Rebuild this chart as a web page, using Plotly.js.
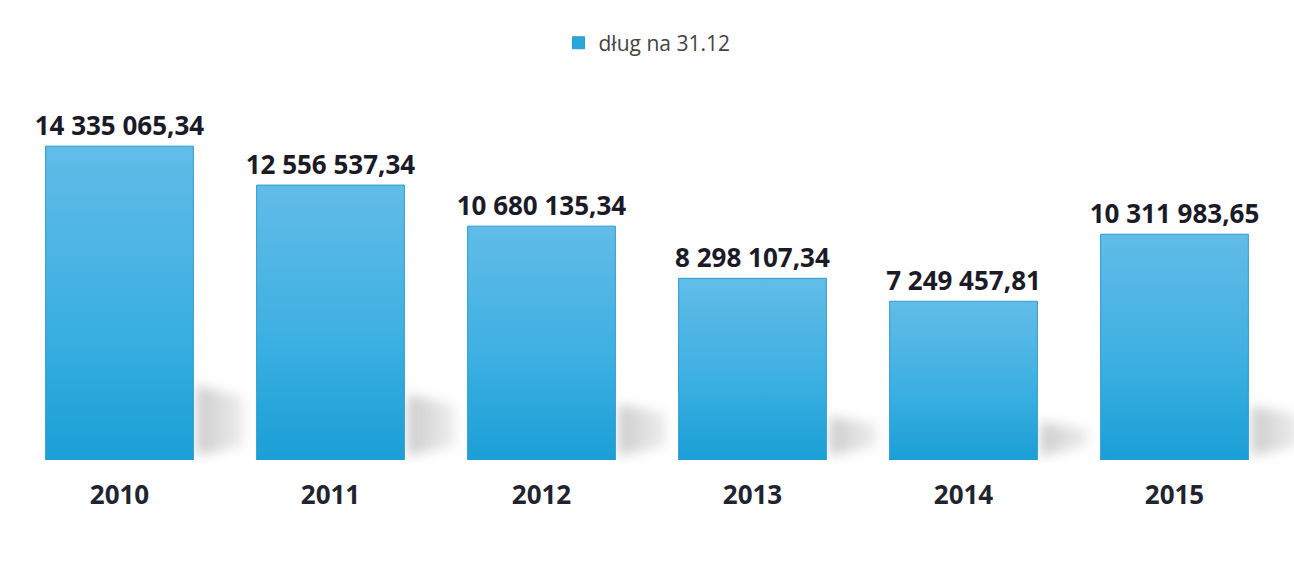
<!DOCTYPE html>
<html>
<head>
<meta charset="utf-8">
<script src="https://cdn.plot.ly/plotly-3.0.1.min.js"></script>
<style>
html,body{margin:0;padding:0;background:#ffffff;}
#chart{width:1294px;height:575px;}
</style>
</head>
<body>
<div id="chart"></div>
<script>
const years = ["2010", "2011", "2012", "2013", "2014", "2015"];
const debt = [14335065.34, 12556537.34, 10680135.34, 8298107.34, 7249457.81, 10311983.65];
const debtLabels = ["14 335 065,34", "12 556 537,34", "10 680 135,34", "8 298 107,34", "7 249 457,81", "10 311 983,65"];
const seriesName = "dług na 31.12";

const trace = {
  type: "bar",
  x: years,
  y: debt,
  name: seriesName,
  text: debtLabels,
  textposition: "outside",
  constraintext: "none",
  cliponaxis: false,
  textfont: {family: "Open Sans", size: 26, color: "#1b1b28", weight: 700},
  marker: {color: "#3aaee0", line: {color: "#2a9ad0", width: 1}},
  hoverinfo: "x+y",
  showlegend: true
};

const layout = {
  width: 1294,
  height: 575,
  paper_bgcolor: "#ffffff",
  plot_bgcolor: "#ffffff",
  margin: {l: 14, r: 14, t: 90, b: 115},
  bargap: 0.3,
  showlegend: true,
  legend: {
    orientation: "h",
    x: 0.5, xanchor: "center",
    yref: "container",
    y: 0.925, yanchor: "middle",
    font: {family: "Open Sans", size: 21, color: "#444444"},
    itemwidth: 30
  },
  xaxis: {
    type: "category",
    showgrid: false,
    zeroline: false,
    showline: false,
    ticks: "outside",
    ticklen: 12,
    tickcolor: "rgba(0,0,0,0)",
    tickfont: {family: "Open Sans", size: 26, color: "#1f2430", weight: 700}
  },
  yaxis: {
    range: [0, 16900000],
    visible: false,
    showgrid: false,
    zeroline: false
  }
};

Plotly.newPlot("chart", [trace], layout, {displayModeBar: false, staticPlot: true}).then(function(gd){
  const svg = gd.querySelector("svg.main-svg");
  const ns = "http://www.w3.org/2000/svg";
  let defs = svg.querySelector("defs");
  if (!defs) { defs = document.createElementNS(ns, "defs"); svg.insertBefore(defs, svg.firstChild); }
  const grad = document.createElementNS(ns, "linearGradient");
  grad.setAttribute("id", "barGrad");
  grad.setAttribute("x1", "0"); grad.setAttribute("y1", "0");
  grad.setAttribute("x2", "0"); grad.setAttribute("y2", "1");
  [["0%", "#62bce8"], ["55%", "#3db0e2"], ["100%", "#1a9fd6"]].forEach(function(s){
    const st = document.createElementNS(ns, "stop");
    st.setAttribute("offset", s[0]); st.setAttribute("stop-color", s[1]);
    grad.appendChild(st);
  });
  defs.appendChild(grad);
  const flt = document.createElementNS(ns, "filter");
  flt.setAttribute("id", "shBlur");
  flt.setAttribute("x", "-50%"); flt.setAttribute("y", "-50%");
  flt.setAttribute("width", "200%"); flt.setAttribute("height", "200%");
  const fb = document.createElementNS(ns, "feGaussianBlur");
  fb.setAttribute("stdDeviation", "6");
  flt.appendChild(fb);
  defs.appendChild(flt);
  const sgrad = document.createElementNS(ns, "linearGradient");
  sgrad.setAttribute("id", "shGrad");
  sgrad.setAttribute("x1", "0"); sgrad.setAttribute("y1", "0");
  sgrad.setAttribute("x2", "1"); sgrad.setAttribute("y2", "0");
  [["0%", "#a0a0a0", "0.55"], ["100%", "#c0c0c0", "0.3"]].forEach(function(s){
    const st = document.createElementNS(ns, "stop");
    st.setAttribute("offset", s[0]); st.setAttribute("stop-color", s[1]); st.setAttribute("stop-opacity", s[2]);
    sgrad.appendChild(st);
  });
  defs.appendChild(sgrad);

  const paths = gd.querySelectorAll(".bars .point path");
  paths.forEach(function(p){
    p.style.fill = "url(#barGrad)";
    const bb = p.getBBox();
    const R = bb.x + bb.width, B = bb.y + bb.height, h = bb.height;
    const poly = document.createElementNS(ns, "polygon");
    const pts = [
      [R + 3, B - 0.24 * h],
      [R + 50, B - 0.2 * h],
      [R + 50, B - 14],
      [R + 3, B - 4]
    ].map(function(q){ return q[0] + "," + q[1]; }).join(" ");
    poly.setAttribute("points", pts);
    poly.setAttribute("fill", "url(#shGrad)");
    poly.setAttribute("filter", "url(#shBlur)");
    const g = p.parentNode;
    g.parentNode.insertBefore(poly, g);
  });
  gd.querySelectorAll(".legend .legendpoints path").forEach(function(p){ p.style.fill = "#2aa6dc"; });
});
</script>
</body>
</html>
